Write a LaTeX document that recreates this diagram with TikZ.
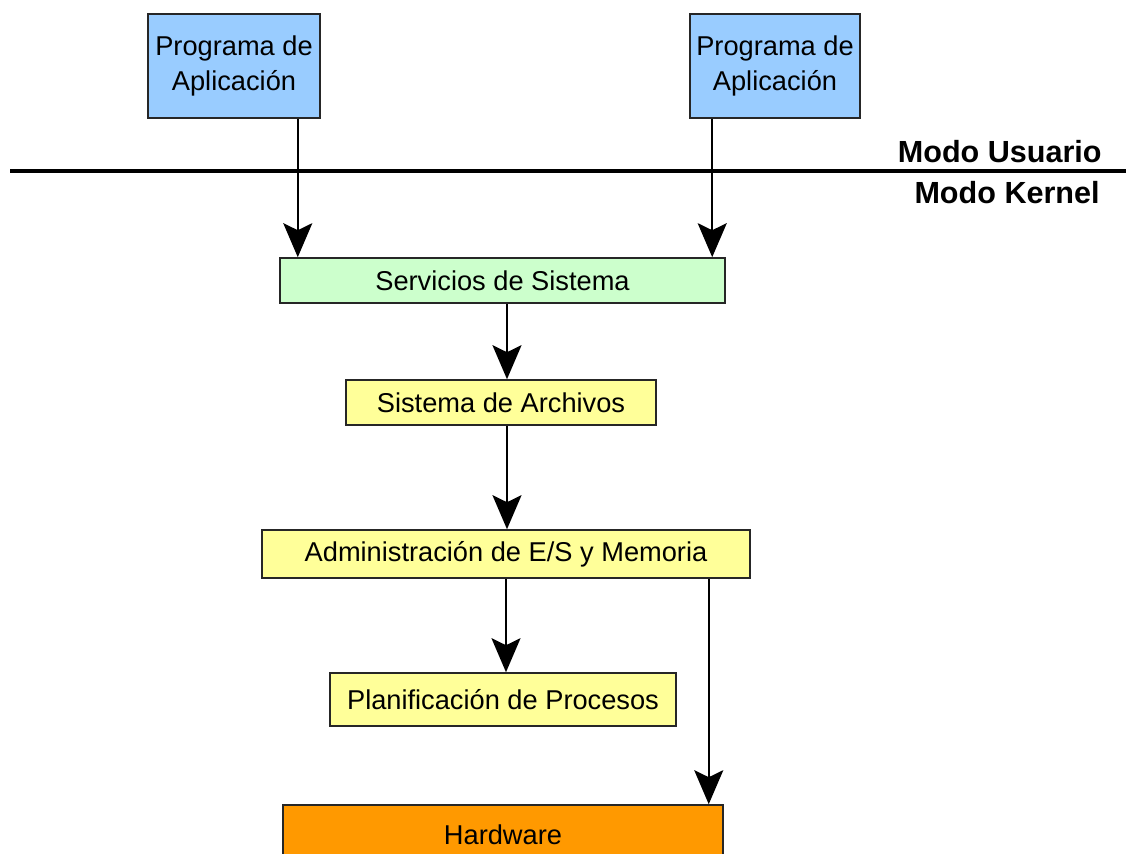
\documentclass[tikz,border=0pt]{standalone}
\usepackage{fontspec}
\setmainfont{Liberation Sans}
\usetikzlibrary{arrows.meta}

\definecolor{appblue}{HTML}{99CCFF}
\definecolor{svcgreen}{HTML}{CCFFCC}
\definecolor{modyellow}{HTML}{FFFF99}
\definecolor{hworange}{HTML}{FF9900}

\begin{document}
\begin{tikzpicture}[x=0.02cm, y=-0.02cm,
	layer/.style={draw=black!85, line width=0.9pt, inner sep=0pt, align=center,
		font=\fontsize{15.5}{20}\selectfont, minimum height=0.9cm},
	app/.style={layer, fill=appblue, minimum height=2.08cm},
	callarrow/.style={line width=1.2pt, -{Stealth[length=0.68cm, width=0.58cm, inset=0.14cm]}},
	modetext/.style={anchor=east, inner sep=0pt, font=\fontsize{17.4}{20}\selectfont\bfseries}]

	\useasboundingbox (0,0) rectangle (1126,854);
	\clip (0,0) rectangle (1126,854);

	\node[app, minimum width=3.44cm] (prog1) at (234,66) {Programa de\\Aplicación};
	\node[app, minimum width=3.4cm] (prog2) at (775,66) {Programa de\\Aplicación};

	\coordinate (lineL) at (10,171);
	\coordinate (lineR) at (1126,171);
	\draw[line width=2pt] (lineL) -- (lineR);
	\node[modetext] (usuario) at (1102,152) {Modo Usuario};
	\node[modetext] (kernel) at (1100,193) {Modo Kernel};

	\node[layer, fill=svcgreen, minimum width=8.9cm] (serv) at (502.5,280.5) {Servicios de Sistema};
	\node[layer, fill=modyellow, minimum width=6.2cm] (arch) at (501,402.5) {Sistema de Archivos};
	\node[layer, fill=modyellow, minimum width=9.76cm, minimum height=0.96cm] (admin) at (506,554) {Administración de E/S y Memoria};
	\node[layer, fill=modyellow, minimum width=6.92cm, minimum height=1.06cm] (plan) at (503,699.5) {Planificación de Procesos};
	\node[layer, fill=hworange, minimum width=8.8cm, minimum height=1.2cm] (hw) at (503,835) {Hardware};

	\draw[callarrow] ([xshift=-0.46cm]prog1.south east) -- ([xshift=-0.46cm]prog1.south east |- serv.north);
	\draw[callarrow] ([xshift=0.46cm]prog2.south west) -- ([xshift=0.46cm]prog2.south west |- serv.north);
	\draw[callarrow] ([xshift=0.09cm]serv.south) -- ([xshift=0.09cm]serv.south |- arch.north);
	\draw[callarrow] ([xshift=0.12cm]arch.south) -- ([xshift=0.12cm]arch.south |- admin.north);
	\draw[callarrow] (admin.south) -- (admin.south |- plan.north);
	\draw[callarrow] ([xshift=-0.84cm]admin.south east) -- ([xshift=-0.84cm]admin.south east |- hw.north);

\end{tikzpicture}
\end{document}
